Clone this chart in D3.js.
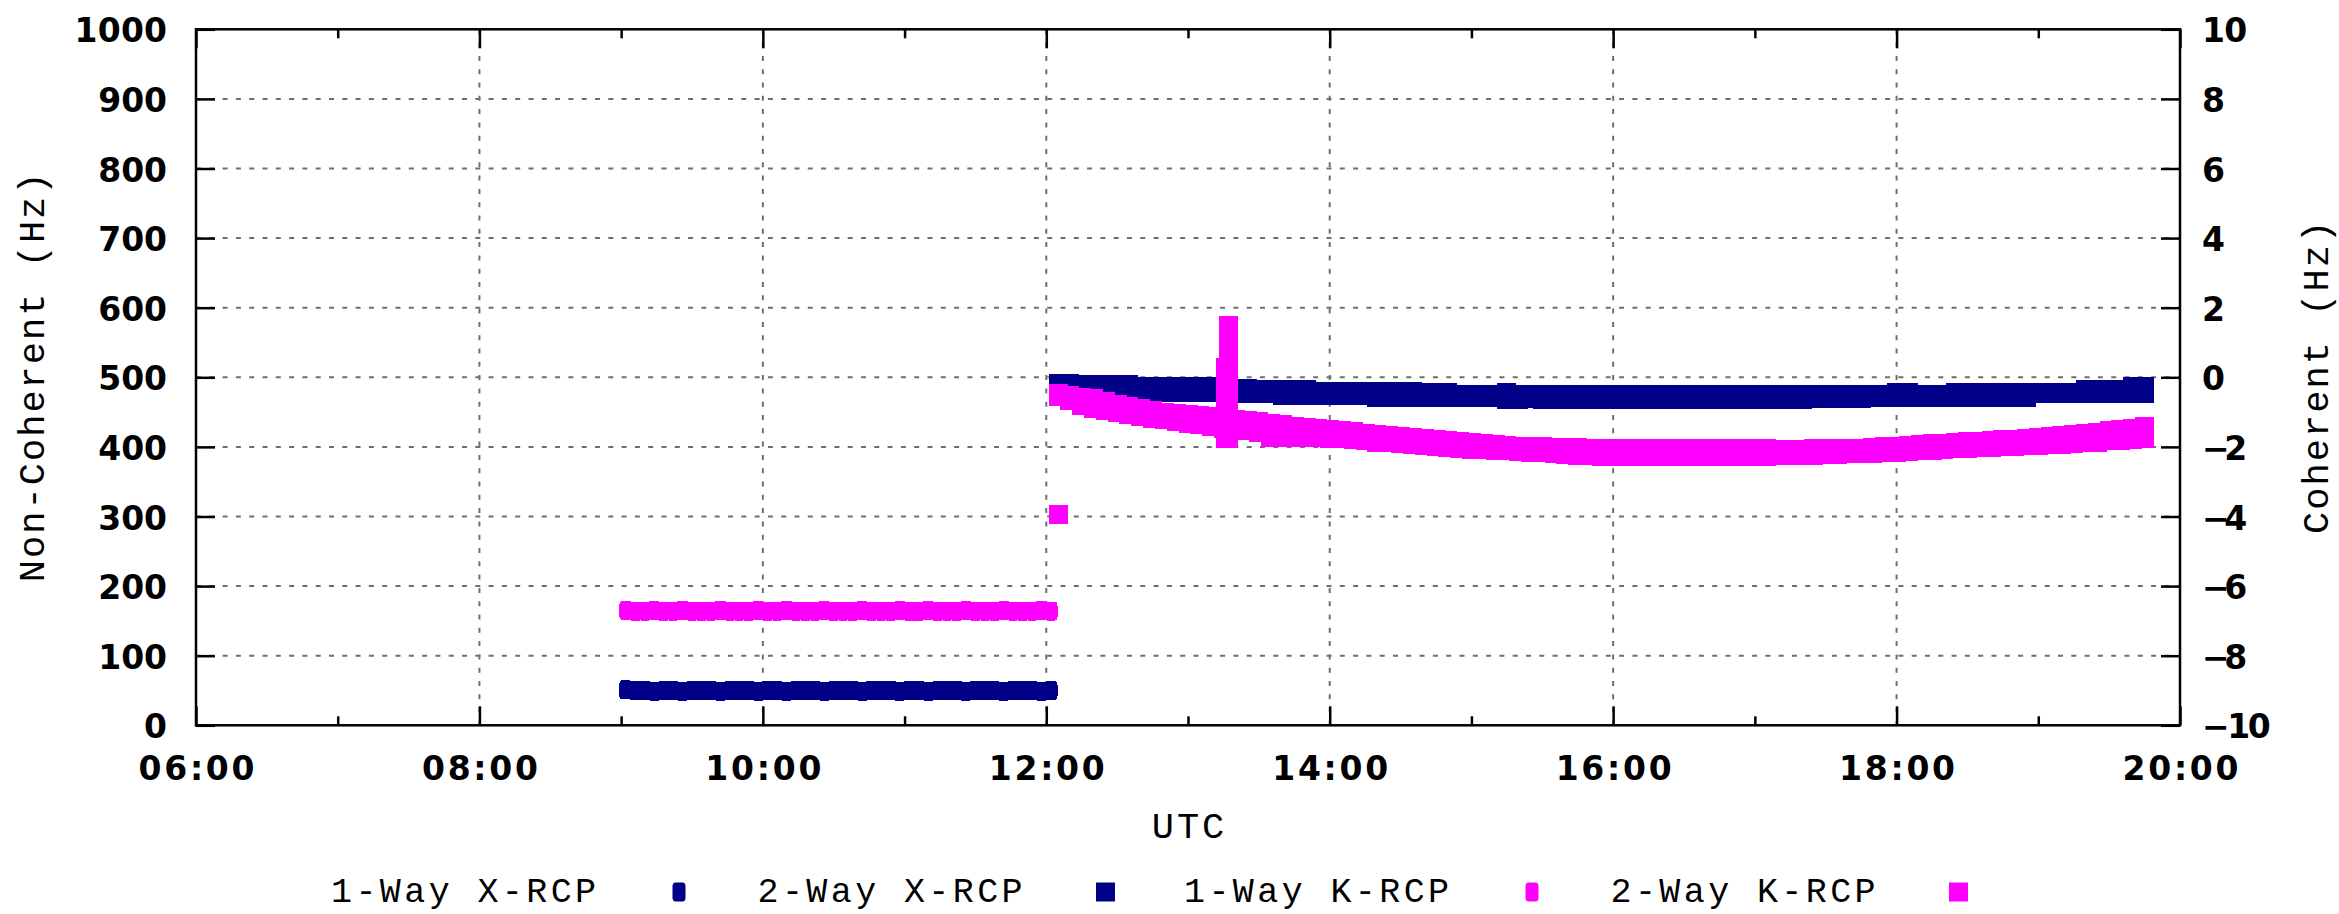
<!DOCTYPE html>
<html>
<head>
<meta charset="utf-8">
<script src="https://cdn.jsdelivr.net/npm/d3@7"></script>
<style>
html,body{margin:0;padding:0;background:#fff;overflow:hidden;}
svg{display:block;}
</style>
</head>
<body>
<svg id="chart" width="2339" height="914"></svg>
<script>
// ---------------- DATA ----------------
const xTickLabels = ["06:00","08:00","10:00","12:00","14:00","16:00","18:00","20:00"];
const xMinorLabels = ["07:00","09:00","11:00","13:00","15:00","17:00","19:00"];
const yLeftTicks = [0,100,200,300,400,500,600,700,800,900,1000];
const yRightTicks = [-10,-8,-6,-4,-2,0,2,4,6,8,10];
const seriesNames = ["1-Way X-RCP","2-Way X-RCP","1-Way K-RCP","2-Way K-RCP"];

// 1-Way (non-coherent, left axis, Hz)
const oneWayTimes = [
"09:02","09:06","09:10","09:14","09:18","09:22","09:26","09:30","09:34","09:38","09:42","09:46","09:50","09:54","09:58",
"10:02","10:06","10:10","10:14","10:18","10:22","10:26","10:30","10:34","10:38","10:42","10:46","10:50","10:54","10:58",
"11:02","11:06","11:10","11:14","11:18","11:22","11:26","11:30","11:34","11:38","11:42","11:46","11:50","11:54","11:58",
"12:02"];
const oneWayX = [
51,50,50,49,50,50,49,50,50,50,49,50,50,50,49,
50,50,49,50,50,50,49,50,50,50,49,50,50,50,49,
50,50,49,50,50,50,49,50,50,50,49,50,50,50,49,
50];
const oneWayK = [
165,164,164,165,164,164,165,164,164,164,165,164,164,164,165,
164,164,165,164,164,164,165,164,164,164,165,164,164,164,165,
164,164,165,164,164,164,165,164,164,164,165,164,164,164,165,
164];

// 2-Way (coherent, right axis, Hz): upper and lower edge of the scatter
const twoWayTimes = [
"12:05","12:10","12:15","12:20","12:25","12:30","12:35","12:40","12:45","12:50","12:55",
"13:00","13:05","13:10","13:15","13:20","13:25","13:30","13:35","13:40","13:45","13:50","13:55",
"14:00","14:05","14:10","14:15","14:20","14:25","14:30","14:35","14:40","14:45","14:50","14:55",
"15:00","15:05","15:10","15:15","15:20","15:25","15:30","15:35","15:40","15:45","15:50","15:55",
"16:00","16:05","16:10","16:15","16:20","16:25","16:30","16:35","16:40","16:45","16:50","16:55",
"17:00","17:05","17:10","17:15","17:20","17:25","17:30","17:35","17:40","17:45","17:50","17:55",
"18:00","18:05","18:10","18:15","18:20","18:25","18:30","18:35","18:40","18:45","18:50","18:55",
"19:00","19:05","19:10","19:15","19:20","19:25","19:30","19:35","19:40","19:45"];

const twoWayXHigh = [
-0.21,-0.21,-0.21,-0.21,-0.21,-0.21,-0.21,-0.26,-0.26,-0.26,-0.26,
-0.26,-0.26,-0.26,-0.26,-0.31,-0.31,-0.35,-0.35,-0.35,-0.35,-0.35,-0.42,
-0.42,-0.42,-0.42,-0.42,-0.42,-0.42,-0.42,-0.42,-0.43,-0.43,-0.43,-0.49,
-0.49,-0.49,-0.49,-0.43,-0.49,-0.49,-0.49,-0.49,-0.49,-0.49,-0.49,-0.49,
-0.49,-0.49,-0.49,-0.49,-0.49,-0.49,-0.49,-0.49,-0.49,-0.49,-0.49,-0.49,
-0.49,-0.49,-0.49,-0.49,-0.49,-0.49,-0.49,-0.49,-0.49,-0.49,-0.49,-0.49,
-0.43,-0.43,-0.49,-0.49,-0.49,-0.43,-0.43,-0.43,-0.43,-0.43,-0.43,-0.43,
-0.43,-0.43,-0.43,-0.43,-0.35,-0.35,-0.35,-0.35,-0.27,-0.27];
const twoWayXLow = [
-0.19,-0.19,-0.27,-0.35,-0.38,-0.38,-0.38,-0.38,-0.41,-0.43,-0.43,
-0.43,-0.43,-0.43,-0.45,-0.47,-0.47,-0.47,-0.47,-0.52,-0.52,-0.52,-0.52,
-0.52,-0.52,-0.52,-0.52,-0.57,-0.57,-0.57,-0.57,-0.57,-0.57,-0.57,-0.57,
-0.57,-0.57,-0.57,-0.65,-0.65,-0.60,-0.65,-0.65,-0.65,-0.65,-0.65,-0.65,
-0.65,-0.65,-0.65,-0.65,-0.65,-0.65,-0.65,-0.65,-0.65,-0.65,-0.65,-0.65,
-0.65,-0.65,-0.65,-0.65,-0.65,-0.62,-0.62,-0.62,-0.62,-0.62,-0.57,-0.57,
-0.57,-0.57,-0.57,-0.57,-0.57,-0.57,-0.57,-0.57,-0.57,-0.57,-0.57,-0.57,
-0.47,-0.47,-0.47,-0.47,-0.47,-0.47,-0.47,-0.47,-0.47,-0.47];

const twoWayKHigh = [
-0.47,-0.52,-0.57,-0.61,-0.69,-0.77,-0.85,-0.89,-0.94,-1.00,-1.04,
-1.08,-1.10,-1.12,-1.16,-1.21,-1.24,-1.28,-1.32,-1.36,-1.40,-1.43,-1.47,
-1.50,-1.54,-1.57,-1.61,-1.64,-1.67,-1.70,-1.73,-1.76,-1.79,-1.82,-1.84,
-1.87,-1.90,-1.93,-1.95,-1.98,-1.99,-2.00,-2.01,-2.02,-2.03,-2.04,-2.04,
-2.05,-2.05,-2.06,-2.06,-2.05,-2.05,-2.05,-2.06,-2.06,-2.05,-2.05,-2.06,
-2.05,-2.06,-2.07,-2.07,-2.07,-2.06,-2.06,-2.05,-2.05,-2.04,-2.02,-2.00,
-1.98,-1.96,-1.94,-1.91,-1.89,-1.87,-1.85,-1.84,-1.82,-1.80,-1.78,-1.75,
-1.73,-1.70,-1.67,-1.65,-1.62,-1.58,-1.54,-1.50,-1.46,-1.42];
const twoWayKLow = [
-0.55,-0.68,-0.82,-0.89,-0.96,-1.02,-1.08,-1.12,-1.17,-1.22,-1.28,
-1.33,-1.35,-1.40,-1.47,-1.52,-1.54,-1.60,-1.72,-1.73,-1.73,-1.74,-1.74,
-1.75,-1.77,-1.80,-1.83,-1.86,-1.88,-1.90,-1.93,-1.96,-1.99,-2.01,-2.04,
-2.07,-2.08,-2.09,-2.11,-2.12,-2.15,-2.17,-2.20,-2.22,-2.24,-2.26,-2.28,
-2.29,-2.29,-2.28,-2.28,-2.28,-2.27,-2.27,-2.28,-2.28,-2.27,-2.27,-2.27,
-2.27,-2.27,-2.26,-2.26,-2.25,-2.24,-2.23,-2.22,-2.20,-2.19,-2.18,-2.16,
-2.15,-2.13,-2.11,-2.09,-2.07,-2.06,-2.05,-2.03,-2.02,-2.00,-1.99,-1.97,
-1.96,-1.94,-1.92,-1.90,-1.88,-1.86,-1.83,-1.81,-1.78,-1.76];

// Extra 2-Way K-RCP readings (isolated point and spike)
const twoWayKExtraTimes  = ["12:05","13:16","13:16","13:16","13:16","13:16",
                            "13:17","13:17","13:17","13:17","13:17","13:17","13:17","13:17"];
const twoWayKExtraValues = [-3.94, 0.28,-0.20,-0.70,-1.20,-1.76,
                             1.50, 1.00, 0.50, 0.00,-0.50,-1.00,-1.50,-1.76];

// ---------------- STYLE ----------------
const NAVY = "#000088", MAGENTA = "#ff00ff";
const FONT = "'Liberation Mono','DejaVu Sans Mono',monospace";
const TICK_FONT = "'DejaVu Sans',sans-serif";
const CHAR_W = 23.6;

// ---------------- CHART ----------------
const svg = d3.select("#chart");
svg.append("rect").attr("width",2339).attr("height",914).attr("fill","#fff");

const M = {left:196, right:2180, top:29.3, bottom:725.3};
const parseT = s => { const p = s.split(":").map(Number); return p[0] + p[1]/60; };

const x  = d3.scaleLinear().domain([6,20]).range([M.left, M.right]);
const yL = d3.scaleLinear().domain([0,1000]).range([M.bottom, M.top]);
const yR = d3.scaleLinear().domain([-10,10]).range([M.bottom, M.top]);

const majorHours = xTickLabels.map(parseT);
const minorHours = xMinorLabels.map(parseT);

// grid (behind data)
const grid = svg.append("g").attr("stroke","#6f6f6f").attr("stroke-width",2)
  .attr("stroke-dasharray","5,8.3");
grid.selectAll("line.h").data(yLeftTicks.slice(1,-1)).join("line").attr("class","h")
  .attr("x1",M.left).attr("x2",M.right).attr("y1",d=>yL(d)).attr("y2",d=>yL(d));
grid.selectAll("line.v").data(majorHours.slice(1,-1)).join("line").attr("class","v")
  .attr("y1",M.top).attr("y2",M.bottom).attr("x1",d=>x(d)).attr("x2",d=>x(d));

// data
const dataG = svg.append("g").attr("shape-rendering","crispEdges");
function drawOneWay(times, vals, color){
  const pts = times.map((t,i)=>({t:parseT(t), v:vals[i]}));
  dataG.append("g").selectAll("rect").data(pts).join("rect")
    .attr("x", d=>x(d.t)-6.5).attr("y", d=>yL(d.v)-9.5)
    .attr("width",13).attr("height",19).attr("rx",3).attr("ry",4)
    .attr("fill",color);
}
function drawTwoWay(times, vals, color){
  const pts = times.map((t,i)=>({t:parseT(t), v:vals[i]}));
  dataG.append("g").selectAll("rect").data(pts).join("rect")
    .attr("x", d=>x(d.t)-9.5).attr("y", d=>yR(d.v)-9.5)
    .attr("width",19).attr("height",19)
    .attr("fill",color);
}
drawOneWay(oneWayTimes, oneWayX, NAVY);
drawTwoWay(twoWayTimes, twoWayXHigh, NAVY);
drawTwoWay(twoWayTimes, twoWayXLow, NAVY);
drawOneWay(oneWayTimes, oneWayK, MAGENTA);
drawTwoWay(twoWayTimes, twoWayKHigh, MAGENTA);
drawTwoWay(twoWayTimes, twoWayKLow, MAGENTA);
drawTwoWay(twoWayKExtraTimes, twoWayKExtraValues, MAGENTA);

// axes
function styleAxis(g){
  g.select(".domain").remove();
  g.selectAll(".tick line").attr("stroke","#000").attr("stroke-width",2.5);
  g.selectAll("text").attr("font-family",TICK_FONT).attr("font-size",33)
    .attr("font-weight","bold").attr("fill","#000").attr("dy",null)
    .attr("lengthAdjust","spacing")
    .attr("textLength", function(){ return this.textContent.length*CHAR_W - 2; });
}
const fmt = (d,i)=>xTickLabels[i];
const gB = svg.append("g").attr("transform",`translate(0,${M.bottom})`)
  .call(d3.axisBottom(x).tickValues(majorHours).tickSizeInner(-19).tickSizeOuter(0).tickFormat(fmt));
styleAxis(gB);
gB.selectAll("text").attr("y",54.7).attr("text-anchor","middle");
const gBm = svg.append("g").attr("transform",`translate(0,${M.bottom})`)
  .call(d3.axisBottom(x).tickValues(minorHours).tickSizeInner(-9).tickSizeOuter(0).tickFormat(""));
styleAxis(gBm);
const gT = svg.append("g").attr("transform",`translate(0,${M.top})`)
  .call(d3.axisTop(x).tickValues(majorHours).tickSizeInner(-19).tickSizeOuter(0).tickFormat(""));
styleAxis(gT);
const gTm = svg.append("g").attr("transform",`translate(0,${M.top})`)
  .call(d3.axisTop(x).tickValues(minorHours).tickSizeInner(-9).tickSizeOuter(0).tickFormat(""));
styleAxis(gTm);

const gL = svg.append("g").attr("transform",`translate(${M.left},0)`)
  .call(d3.axisLeft(yL).tickValues(yLeftTicks).tickSizeInner(-19).tickSizeOuter(0).tickFormat(d3.format("d")));
styleAxis(gL);
gL.selectAll("text").attr("x",-29).attr("y",12.5).attr("text-anchor","end");

const gR = svg.append("g").attr("transform",`translate(${M.right},0)`)
  .call(d3.axisRight(yR).tickValues(yRightTicks).tickSizeInner(-19).tickSizeOuter(0));
styleAxis(gR);
gR.selectAll("text").attr("x",22).attr("y",12.5).attr("text-anchor","start");

// border
svg.append("rect").attr("x",M.left).attr("y",M.top)
  .attr("width",M.right-M.left).attr("height",M.bottom-M.top)
  .attr("fill","none").attr("stroke","#000").attr("stroke-width",2.5);

// titles
function label(txt, xx, yy, anchor, rot, size){
  const t = svg.append("text").text(txt)
    .attr("font-family",FONT).attr("font-size",size||37).attr("fill","#000")
    .attr("text-anchor",anchor)
    .attr("lengthAdjust","spacing").attr("textLength",txt.length*24.1)
    .attr("transform",`translate(${xx},${yy})` + (rot?` rotate(${rot})`:""));
  return t;
}
label("UTC", (M.left+M.right)/2, 838, "middle", 0);
label("Non-Coherent (Hz)", 43.5, (M.top+M.bottom)/2, "middle", -90);
label("Coherent (Hz)", 2328, (M.top+M.bottom)/2, "middle", -90);

// legend
const legend = svg.append("g");
seriesNames.forEach((name,i)=>{
  const x0 = 331 + i*426.5;
  label(name, x0, 902, "start", 0, 35);
  const mx = 679 + i*426.5, my = 892;
  if (i % 2 === 0) {
    legend.append("rect").attr("x",mx-6.5).attr("y",my-9.5).attr("width",13).attr("height",19)
      .attr("rx",3).attr("ry",4).attr("fill", i<2?NAVY:MAGENTA);
  } else {
    legend.append("rect").attr("x",mx-9.5).attr("y",my-9.5).attr("width",19).attr("height",19)
      .attr("fill", i<2?NAVY:MAGENTA);
  }
});
</script>
</body>
</html>
